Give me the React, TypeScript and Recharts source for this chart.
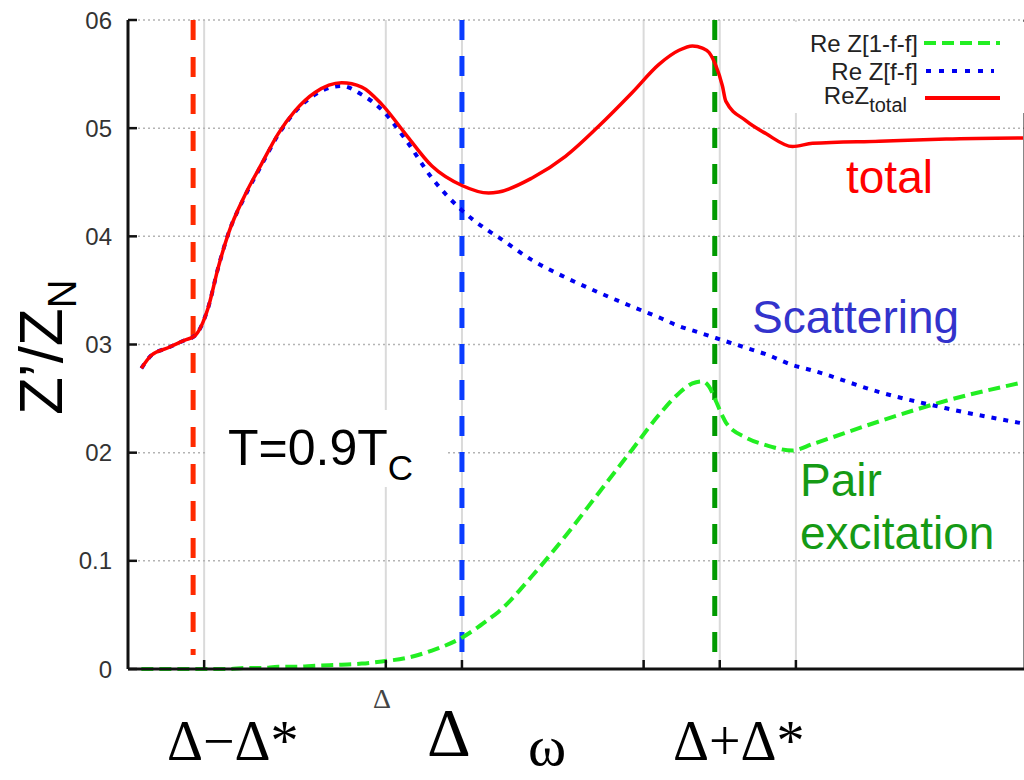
import { LineChart, Line, XAxis, YAxis, CartesianGrid, ReferenceLine, Legend } from "recharts"

// frequency axis, in units of the gap Δ
const omega = [
  0.04, 0.07, 0.12, 0.17, 0.2, 0.24, 0.27, 0.3, 0.35, 0.4, 0.45, 0.5, 0.56, 0.64, 0.7, 0.76, 0.83, 0.91, 1.0, 1.08,
  1.11, 1.21, 1.31, 1.41, 1.51, 1.59, 1.65, 1.69, 1.72, 1.74, 1.76, 1.78, 1.79, 1.85, 1.91, 1.99, 2.05, 2.25, 2.45, 2.68,
]

// Re Z_total / Z_N
const reZTotal = [
  0.0278, 0.029, 0.0297, 0.0304, 0.0308, 0.0334, 0.0371, 0.0402, 0.0438, 0.0467, 0.0495, 0.0516, 0.0533, 0.0542, 0.0538,
  0.0522, 0.0495, 0.0465, 0.0447, 0.044, 0.0441, 0.0454, 0.0474, 0.0502, 0.0533, 0.0559, 0.0572, 0.0576, 0.0574, 0.057,
  0.0558, 0.0539, 0.0525, 0.0507, 0.0495, 0.0483, 0.0486, 0.0488, 0.049, 0.0491,
]

// Re Z[f-f] / Z_N  (scattering)
const reZff = [
  0.0278, 0.029, 0.0297, 0.0304, 0.0308, 0.0334, 0.0371, 0.0402, 0.0437, 0.0466, 0.0494, 0.0515, 0.0531, 0.0539, 0.0531,
  0.0517, 0.049, 0.0454, 0.0424, 0.0405, 0.0399, 0.0378, 0.0362, 0.0348, 0.0335, 0.0325, 0.0317, 0.0313, 0.031, 0.0308,
  0.0306, 0.0304, 0.0303, 0.0297, 0.0291, 0.0281, 0.0276, 0.0256, 0.0241, 0.0227,
]

// Re Z[1-f-f] / Z_N  (pair excitation)
const reZ1ff = [
  0, 0, 0, 0, 0, 0, 0, 0, 0.0001, 0.0001, 0.0002, 0.0002, 0.0003, 0.0004, 0.0005, 0.0007, 0.001, 0.0017, 0.0029, 0.0046,
  0.0053, 0.0086, 0.0123, 0.0163, 0.0203, 0.0235, 0.0255, 0.0264, 0.0266, 0.0261, 0.0248, 0.0234, 0.0228, 0.0214, 0.0207,
  0.0202, 0.0208, 0.0229, 0.0248, 0.0265,
]

// Δ−Δ*, Δ*, Δ, 2Δ*, Δ+Δ*, 2Δ
const omegaTicks = [0.228, 0.772, 1, 1.544, 1.772, 2]
const zTicks = [0, 0.01, 0.02, 0.03, 0.04, 0.05, 0.06]
const zTickLabels = ["0", "0.1", "02", "03", "04", "05", "06"]

// dashed markers at Δ−Δ*, Δ and Δ+Δ*
const lowerEdge = 0.195
const gapEdge = 1.0
const upperEdge = 1.757

const rows = omega.map((w, i) => ({ omega: w, total: reZTotal[i], ff: reZff[i], pair: reZ1ff[i] }))

const sans = "'Liberation Sans', Arial, Helvetica, sans-serif"
const serif = "'Liberation Serif', 'Times New Roman', serif"
const frame = "#111"

function LeftTick({ x, y, payload }: any) {
  const i = zTicks.indexOf(payload.value)
  return (
    <g>
      <line x1={x} x2={x + 9} y1={y} y2={y} stroke={frame} strokeWidth={2.5} />
      <text x={x - 16} y={y} textAnchor="end" dominantBaseline="central" fontSize={24} fill="#333" fontFamily={sans}>
        {zTickLabels[i]}
      </text>
    </g>
  )
}

function RightTick({ x, y }: any) {
  return <line x1={x} x2={x - 9} y1={y} y2={y} stroke={frame} strokeWidth={2.5} />
}

function BottomTick({ x, y }: any) {
  return <line x1={x} x2={x} y1={y} y2={y - 9} stroke={frame} strokeWidth={2.5} />
}

function TopTick({ x, y }: any) {
  return <line x1={x} x2={x} y1={y} y2={y + 9} stroke={frame} strokeWidth={2.5} />
}

function KeyBox() {
  return (
    <svg width={234} height={96} style={{ display: "block" }}>
      <rect x={0} y={0} width={234} height={91} fill="#fff" />
      <g fontFamily={sans} fontSize={24} fill="#222">
        <text x={128} y={30} textAnchor="end">Re Z[1-f-f]</text>
        <text x={128} y={58} textAnchor="end">Re Z[f-f]</text>
        <text x={117} y={82} textAnchor="end">
          ReZ<tspan fontSize={20} dy={8}>total</tspan>
        </text>
      </g>
      <line x1={134} x2={210} y1={21} y2={21} stroke="#22ee22" strokeWidth={4} strokeDasharray="12 6" />
      <line x1={136} x2={204} y1={49} y2={49} stroke="#0000f0" strokeWidth={4} strokeDasharray="5 8" />
      <line x1={135} x2={210} y1={76} y2={76} stroke="#ff0000" strokeWidth={4} />
    </svg>
  )
}

export default function App() {
  return (
    <div style={{ position: "fixed", left: 0, top: 0, width: 1024, height: 780, overflow: "hidden", background: "#fff" }}>
      <LineChart width={1045} height={780} data={rows} margin={{ top: 20, right: 0, bottom: 0, left: 0 }}>
        <CartesianGrid horizontal={false} stroke="#dadada" strokeWidth={2} />
        <CartesianGrid vertical={false} stroke="#b4b4b4" strokeWidth={1.5} strokeDasharray="2 3" />
        <XAxis
          dataKey="omega"
          type="number"
          domain={[0, 2.686]}
          ticks={omegaTicks}
          interval={0}
          height={111}
          tickSize={0}
          tickMargin={0}
          tickLine={false}
          tick={<BottomTick />}
          axisLine={{ stroke: frame, strokeWidth: 3 }}
        />
        <XAxis
          xAxisId="top"
          orientation="top"
          dataKey="omega"
          type="number"
          domain={[0, 2.686]}
          ticks={omegaTicks}
          interval={0}
          height={0}
          tickSize={0}
          tickMargin={0}
          tickLine={false}
          tick={<TopTick />}
          axisLine={{ stroke: frame, strokeWidth: 3 }}
        />
        <YAxis
          domain={[0, 0.06]}
          ticks={zTicks}
          interval={0}
          width={128}
          tickSize={0}
          tickMargin={0}
          tickLine={false}
          tick={<LeftTick />}
          axisLine={{ stroke: frame, strokeWidth: 3 }}
        />
        <YAxis
          yAxisId="right"
          orientation="right"
          domain={[0, 0.06]}
          ticks={zTicks}
          interval={0}
          width={20}
          tickSize={0}
          tickMargin={0}
          tickLine={false}
          tick={<RightTick />}
          axisLine={{ stroke: frame, strokeWidth: 3 }}
        />
        <ReferenceLine
          segment={[{ x: lowerEdge, y: 0.06 }, { x: lowerEdge, y: 0.0013 }]}
          stroke="#ff2a00"
          strokeWidth={5}
          strokeDasharray="20 17"
        />
        <ReferenceLine
          segment={[{ x: gapEdge, y: 0.06 }, { x: gapEdge, y: 0 }]}
          stroke="#0a3cff"
          strokeWidth={5}
          strokeDasharray="20 16"
        />
        <ReferenceLine
          segment={[{ x: upperEdge, y: 0.06 }, { x: upperEdge, y: 0 }]}
          stroke="#009a00"
          strokeWidth={5}
          strokeDasharray="20 16"
        />
        <Line type="monotone" dataKey="pair" stroke="#22ee22" strokeWidth={4} strokeDasharray="12 6" dot={false} isAnimationActive={false} />
        <Line type="monotone" dataKey="ff" stroke="#0000f0" strokeWidth={4} strokeDasharray="5 7" dot={false} isAnimationActive={false} />
        <Line type="monotone" dataKey="total" stroke="#ff0000" strokeWidth={3.5} dot={false} isAnimationActive={false} />
        <Legend
          layout="horizontal"
          align="center"
          verticalAlign="middle"
          content={<KeyBox />}
          wrapperStyle={{ left: 790, top: 22, width: 234, height: 96 }}
        />
      </LineChart>

      <svg width={1024} height={780} style={{ position: "absolute", left: 0, top: 0, pointerEvents: "none" }}>
        <text transform="translate(62,415) rotate(-90)" fontFamily={sans} fontSize={62} fill="#000">
          Z’/Z<tspan fontSize={40} dy={14}>N</tspan>
        </text>

        <rect x={208} y={410} width={240} height={77} fill="#fff" />
        <text x={228} y={465} fontFamily={sans} fontSize={50} fill="#000">
          T=0.9T<tspan fontSize={35} dy={15}>C</tspan>
        </text>

        <text x={846} y={193} fontFamily={sans} fontSize={46} fill="#ff0000">total</text>
        <text x={752} y={333} fontFamily={sans} fontSize={46} fill="#3333cc">Scattering</text>
        <text x={800} y={496} fontFamily={sans} fontSize={46} fill="#159a15">Pair</text>
        <text x={800} y={549} fontFamily={sans} fontSize={46} fill="#159a15">excitation</text>

        <text x={373} y={708} fontFamily={serif} fontSize={28} fill="#444">Δ</text>
        <text x={167} y={760} fontFamily={serif} fontSize={56} fill="#000">Δ−Δ*</text>
        <text x={427} y={755} fontFamily={serif} fontSize={68} fill="#000">Δ</text>
        <text x={528} y={765} fontFamily={serif} fontSize={58} fill="#000">ω</text>
        <text x={673} y={760} fontFamily={serif} fontSize={56} fill="#000">Δ+Δ*</text>
      </svg>
    </div>
  )
}
